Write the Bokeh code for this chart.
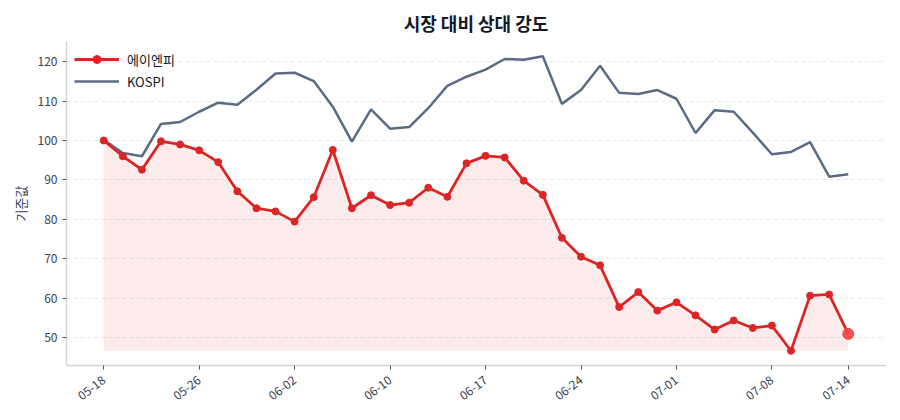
import math
from bokeh.plotting import figure
from bokeh.models import FixedTicker, Range1d, Legend, LegendItem
from bokeh.embed import file_html
from bokeh.resources import INLINE

dates = ["05-18", "05-19", "05-20", "05-21", "05-22", "05-26", "05-27", "05-28", "05-29", "06-01",
         "06-02", "06-04", "06-05", "06-08", "06-09", "06-10", "06-11", "06-12", "06-15", "06-16",
         "06-17", "06-18", "06-19", "06-22", "06-23", "06-24", "06-25", "06-26", "06-29", "06-30",
         "07-01", "07-02", "07-03", "07-06", "07-07", "07-08", "07-09", "07-10", "07-13", "07-14"]

anp = [100.0, 96.0, 92.6, 99.8, 99.0, 97.5, 94.5, 87.1, 82.8, 82.0,
       79.4, 85.6, 97.6, 82.8, 86.1, 83.6, 84.2, 88.0, 85.7, 94.2,
       96.1, 95.7, 89.8, 86.2, 75.3, 70.5, 68.3, 57.7, 61.5, 56.8,
       58.9, 55.6, 52.0, 54.3, 52.4, 53.0, 46.6, 60.6, 60.9, 50.9]

kospi = [100.2, 96.8, 96.0, 104.2, 104.7, 107.3, 109.6, 109.1, 112.9, 117.0,
         117.2, 115.1, 108.6, 99.7, 107.9, 103.0, 103.4, 108.2, 113.9, 116.2,
         118.0, 120.7, 120.5, 121.4, 109.3, 112.8, 119.0, 112.1, 111.8, 112.8,
         110.6, 101.9, 107.7, 107.3, 102.0, 96.5, 97.1, 99.6, 90.8, 91.4]

tick_idx = [0, 5, 10, 15, 20, 25, 30, 35, 39]

FONT = "Noto Sans CJK KR"
RED = "#dc2626"
SLATE = "#5b6b84"

x = list(range(len(dates)))
n = len(x)
ymin = min(min(anp), min(kospi))
ymax = max(max(anp), max(kospi))
yr = ymax - ymin

p = figure(width=900, height=420, output_backend="svg", toolbar_location=None,
           x_range=Range1d(-0.05 * (n - 1), (n - 1) * 1.05),
           y_range=Range1d(ymin - 0.05 * yr, ymax + 0.05 * yr),
           min_border_left=66, min_border_right=15, min_border_bottom=55, min_border_top=41)

p.title.text = "시장 대비 상대 강도"
p.title.align = "center"
p.title.text_font = FONT
p.title.text_font_size = "18px"
p.title.text_font_style = "bold"
p.title.text_color = "#111827"
p.title.standoff = 12

p.outline_line_color = None
p.background_fill_color = "white"
p.border_fill_color = "white"

p.varea(x=x, y1=[min(anp)] * n, y2=anp, fill_color=RED, fill_alpha=0.09)
r_k = p.line(x, kospi, line_color=SLATE, line_width=2.5)
r_a = p.line(x, anp, line_color=RED, line_width=2.8)
r_s = p.scatter(x[:-1], anp[:-1], size=7, fill_color=RED, line_color=RED)
p.scatter([x[-1]], [anp[-1]], size=11, fill_color="#ef4444", line_color="#ef4444", fill_alpha=0.9)

legend = Legend(items=[LegendItem(label="에이엔피", renderers=[r_a, r_s]),
                       LegendItem(label="KOSPI", renderers=[r_k])],
                location="top_left", border_line_color=None, background_fill_alpha=0,
                label_text_font=FONT, label_text_font_size="13px", label_text_color="#111827",
                glyph_width=45, spacing=2, margin=8, padding=4, label_standoff=8)
p.add_layout(legend)

p.xaxis.ticker = FixedTicker(ticks=tick_idx)
p.xaxis.major_label_overrides = {i: dates[i] for i in tick_idx}
p.xaxis.major_label_orientation = 0.65
p.xaxis.major_label_standoff = 9
p.yaxis.ticker = FixedTicker(ticks=[50, 60, 70, 80, 90, 100, 110, 120])
p.yaxis.axis_label = "기준값"

for ax in (p.xaxis, p.yaxis):
    ax.axis_line_color = "#d1d5db"
    ax.axis_line_width = 1.5
    ax.major_tick_line_color = "#4b5563"
    ax.major_tick_in = 0
    ax.major_tick_out = 4
    ax.minor_tick_line_color = None
    ax.major_label_text_font = FONT
    ax.major_label_text_font_size = "12px"
    ax.major_label_text_color = "#374151"
    ax.axis_label_text_font = FONT
    ax.axis_label_text_font_size = "13px"
    ax.axis_label_text_font_style = "normal"
    ax.axis_label_text_color = "#374151"

p.xgrid.grid_line_color = None
p.ygrid.grid_line_color = "#e5e7eb"
p.ygrid.grid_line_dash = "4 3"
p.ygrid.grid_line_width = 1

open("out.html", "w").write(file_html(p, INLINE))
